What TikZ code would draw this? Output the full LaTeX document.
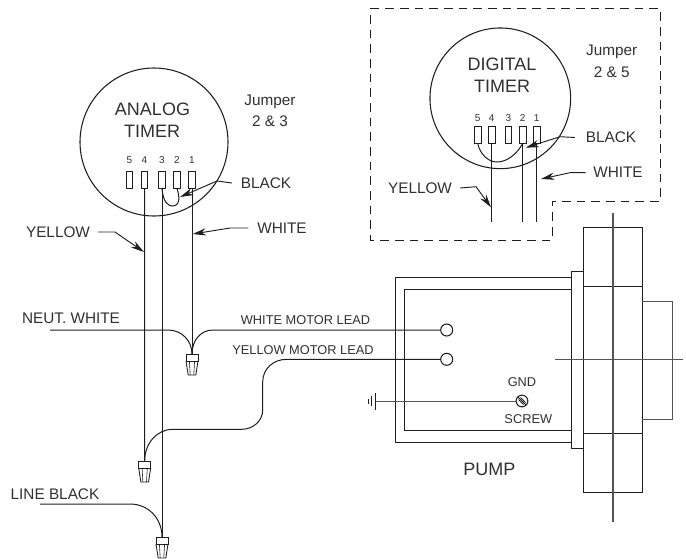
\documentclass[tikz,border=0pt]{standalone}
\usepackage{fontspec}
\setmainfont{Liberation Sans}
\usetikzlibrary{arrows.meta}
\definecolor{inkline}{HTML}{1E1E1E}
\definecolor{inktext}{HTML}{303030}
\definecolor{inkgrey}{HTML}{555555}
\tikzset{
	wire/.style={draw=inkline,line width=0.75pt},
	leader/.style={draw=inkline,line width=0.7pt,-{Stealth[length=10pt,width=5.4pt]}},
	centre/.style={draw=inkgrey,line width=1pt},
	lbl/.style={text=inktext,inner sep=0pt,font=\fontsize{11.5}{13}\selectfont},
	lblbig/.style={text=inktext,inner sep=0pt,font=\fontsize{13.5}{15}\selectfont},
	lblsmall/.style={text=inktext,inner sep=0pt,font=\fontsize{9.6}{11}\selectfont},
	pinno/.style={text=inktext,inner sep=0pt,font=\fontsize{7.5}{9}\selectfont},
	pinbox/.style={draw=inkline,line width=0.7pt,inner sep=0pt,outer sep=0pt,minimum width=4.9pt,minimum height=12.6pt},
	dial/.style={circle,draw=inkline,line width=0.8pt,inner sep=0pt,outer sep=0pt},
	lug/.style={circle,draw=inkline,line width=0.8pt,inner sep=0pt,outer sep=0pt,minimum size=9pt},
}
\newcommand{\wirenut}[3]{
	\coordinate (#1) at (#2,#3);
	\draw[wire,line width=0.65pt] (#2-6,#3) rectangle (#2+6,#3+7);
	\draw[wire,line width=0.65pt] (#2-6,#3+7) -- (#2-3.8,#3+21) -- (#2+3.8,#3+21) -- (#2+6,#3+7);
	\draw[wire,line width=0.45pt] (#2-2.6,#3+7) -- (#2-1.8,#3+21);
	\draw[wire,line width=0.45pt] (#2+2.6,#3+7) -- (#2+1.8,#3+21);
}
\begin{document}
\begin{tikzpicture}[x=0.75pt,y=-0.75pt]
	\useasboundingbox (0,0) rectangle (686,558);

	% analog timer
	\node[dial,minimum size=111pt] (analog) at (154,142) {};
	\node[lblbig] (analogA) at (152.5,109) {ANALOG};
	\node[lblbig] (analogB) at (152,131) {TIMER};
	\node[lbl] (jumperA) at (270,102) {Jumper};
	\node[lbl] (jumperB) at (270,121) {2 \& 3};
	\foreach \n/\x in {5/129.5,4/144.5,3/162,2/177,1/192}{
		\node[pinbox] (apin\n) at (\x,180) {};
		\node[pinno] (ano\n) at (\x,160) {\n};
	}
	\wirenut{nutwhite}{192}{354}
	\wirenut{nutyellow}{144.7}{461}
	\wirenut{nutblack}{162}{537}
	\draw[wire] (apin1.south) -- (nutwhite);
	\draw[wire] (apin4.south) -- (nutyellow);
	\draw[wire] (apin3.south) -- (nutblack);
	\draw[wire] (apin3.south) .. controls (163,203) and (169,206) .. (172,206)
		.. controls (180,206) and (180,198) .. (apin2.south);

	\node[lbl] (ablack) at (266,183) {BLACK};
	\node[lbl] (awhite) at (282,228) {WHITE};
	\node[lbl] (ayellow) at (58,232) {YELLOW};
	\coordinate (ablackbend) at (217,181);
	\coordinate (ablacktip) at (180,197);
	\coordinate (awhitebend) at (230,228);
	\coordinate (awhitetip) at (192.7,234);
	\coordinate (ayellowbend) at (115,232);
	\coordinate (ayellowtip) at (144,252);
	\draw[leader] ([xshift=-6.5pt]ablack.west) -- (ablackbend) -- (ablacktip);
	\draw[leader] ([xshift=-6.5pt]awhite.west) -- (awhitebend) -- (awhitetip);
	\draw[leader] ([xshift=6pt]ayellow.east) -- (ayellowbend) -- (ayellowtip);

	% digital timer
	\draw[wire,dash pattern=on 6.5pt off 4.5pt] (370.7,8.3) -- (660,8.3) -- (660,201.7)
		-- (552,201.7) -- (552,240) -- (370.7,240) -- cycle;
	\node[dial,minimum size=105.5pt] (digital) at (500.3,98.3) {};
	\node[lblbig] (digitalA) at (502,64) {DIGITAL};
	\node[lblbig] (digitalB) at (502,86) {TIMER};
	\node[lbl] (jumperC) at (611.7,52) {Jumper};
	\node[lbl] (jumperD) at (611.7,72) {2 \& 5};
	\foreach \n/\x in {5/477.7,4/491.7,3/508.3,2/522.7,1/536.7}{
		\node[pinbox] (dpin\n) at (\x,135) {};
		\node[pinno] (dno\n) at (\x,118) {\n};
	}
	\coordinate (dend4) at (491.7,222.3);
	\coordinate (dend2) at (522.7,222.3);
	\coordinate (dend1) at (536.7,222.3);
	\draw[wire] (dpin4.south) -- (dend4);
	\draw[wire] (dpin2.south) -- (dend2);
	\draw[wire] (dpin1.south) -- (dend1);
	\draw[wire] (dpin5.south) .. controls (480,154) and (488,162) .. (497,162)
		.. controls (507,162) and (517,154) .. (dpin2.south);

	\node[lbl] (dblack) at (611,137.5) {BLACK};
	\node[lbl] (dwhite) at (618,172.7) {WHITE};
	\node[lbl] (dyellow) at (420,188) {YELLOW};
	\coordinate (dblackbend) at (560,136.7);
	\coordinate (dblacktip) at (525.7,147.7);
	\coordinate (dwhitebend) at (570,172.7);
	\coordinate (dwhitetip) at (541,179);
	\coordinate (dyellowbend) at (476,186.7);
	\coordinate (dyellowtip) at (491,207.3);
	\draw[leader] ([xshift=-8pt]dblack.west) -- (dblackbend) -- (dblacktip);
	\draw[leader] ([xshift=-5.5pt]dwhite.west) -- (dwhitebend) -- (dwhitetip);
	\draw[leader] ([xshift=6pt]dyellow.east) -- (dyellowbend) -- (dyellowtip);

	% pump
	\draw[wire] (571.7,277.7) -- (395,277.7) -- (395,442) -- (571.7,442);
	\draw[wire] (571.7,289.3) -- (404,289.3) -- (404,430.3) -- (571.7,430.3);
	\draw[wire] (571.7,271.7) rectangle (583.7,448.3);
	\draw[wire] (583.7,227.3) rectangle (642.3,492.3);
	\draw[wire] (583.7,286.7) -- (642.3,286.7);
	\draw[wire] (583.7,433.3) -- (642.3,433.3);
	\draw[wire,draw=inkgrey] (642.3,301) -- (672.3,301) -- (672.3,419) -- (642.3,419);
	\draw[centre] (613,212.7) -- (613,522.3);
	\draw[centre] (555,359.3) -- (683.3,359.3);
	\node[lblbig] (pump) at (489.3,469.3) {PUMP};

	% motor leads
	\node[lug] (lugwhite) at (446.7,330) {};
	\node[lug] (lugyellow) at (446.7,359.3) {};
	\node[lblsmall] (leadwhite) at (305.5,320) {WHITE MOTOR LEAD};
	\node[lblsmall] (leadyellow) at (303,350) {YELLOW MOTOR LEAD};
	\draw[wire] (lugwhite.west) -- (213,330) .. controls (201,330) and (192,340) .. (nutwhite);
	\draw[wire] (lugyellow.west) -- (287,359.3) .. controls (273,359.3) and (262.7,369) .. (262.7,382)
		-- (262.7,410) .. controls (262.7,421) and (253,429.3) .. (241.7,429.3)
		-- (173,429.3) .. controls (157,429.3) and (144.7,443) .. (nutyellow);

	% supply leads
	\node[lbl] (neut) at (71,318) {NEUT. WHITE};
	\node[lbl] (line) at (55,494) {LINE BLACK};
	\coordinate (neutend) at (50,330);
	\coordinate (lineend) at (40,504);
	\draw[wire] (neutend) -- (168,330) .. controls (182,330) and (192,341) .. (nutwhite);
	\draw[wire] (lineend) -- (130,504) .. controls (148,504) and (162,518) .. (nutblack);

	% ground
	\node[lug,minimum size=8.8pt] (screw) at (522,401) {};
	\node[lblsmall] (gnd) at (522,382.3) {GND};
	\node[lblsmall] (screwtxt) at (528.3,419.3) {SCREW};
	\draw[wire,line width=0.6pt] (screw.north west) -- (screw.south east);
	\draw[wire,line width=0.6pt] (518.5,399.5) -- (523.5,404.5);
	\draw[wire,line width=0.6pt] (520.5,397.5) -- (525.5,402.5);
	\coordinate (earth) at (375,401);
	\draw[wire,draw=inkgrey] (screw.west) -- (earth);
	\draw[wire] (375,392.7) -- (375,410);
	\draw[wire] (371.7,396) -- (371.7,406);
	\draw[wire] (368.3,398.5) -- (368.3,403.5);
\end{tikzpicture}
\end{document}
